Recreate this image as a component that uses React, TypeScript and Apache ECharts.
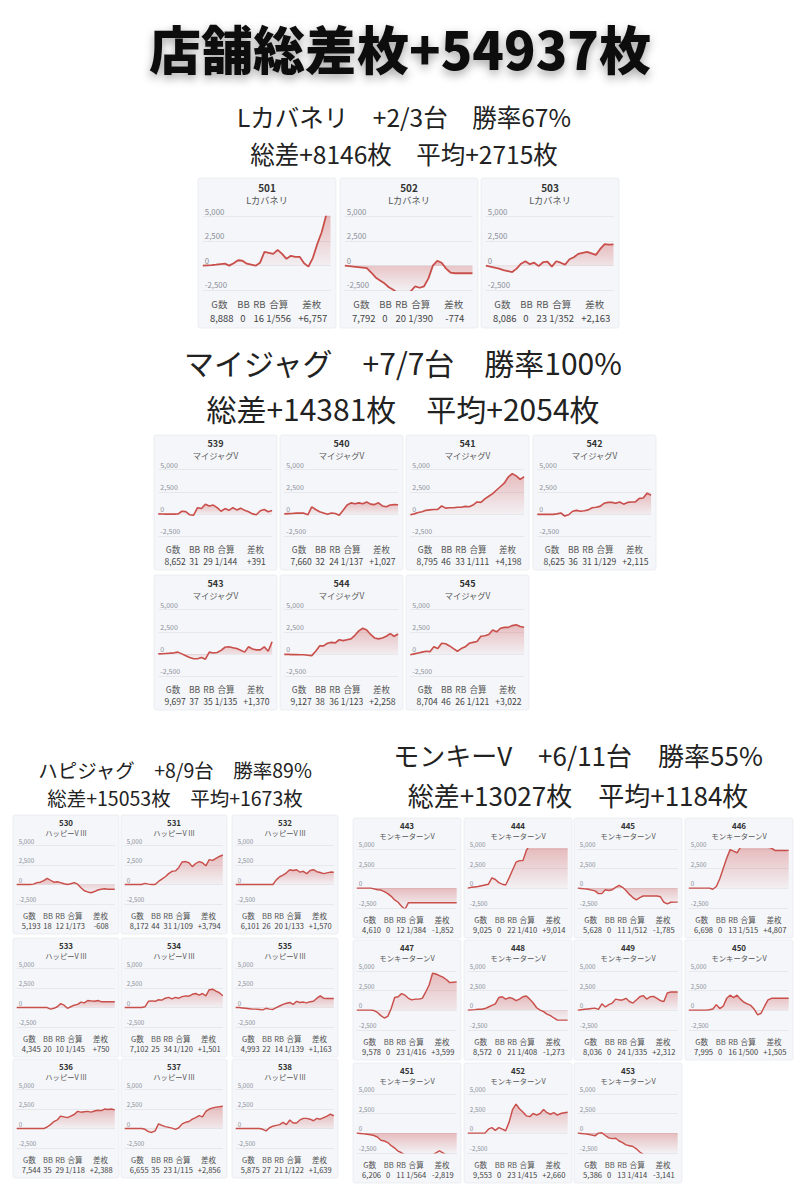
import React, { useEffect, useRef } from "react";
import * as echarts from "echarts";

const FONT = '"Noto Sans CJK JP", "Noto Sans", sans-serif';

// ---------- text ----------
const pageTitle = "店舗総差枚+54937枚";
const headingLine1 = [
  "Lカバネリ　+2/3台　勝率67%",
  "マイジャグ　+7/7台　勝率100%",
  "ハピジャグ　+8/9台　勝率89%",
  "モンキーV　+6/11台　勝率55%",
];
const headingLine2 = [
  "総差+8146枚　平均+2715枚",
  "総差+14381枚　平均+2054枚",
  "総差+15053枚　平均+1673枚",
  "総差+13027枚　平均+1184枚",
];
const modelNames = ["Lカバネリ", "マイジャグV", "ハッピーV III", "モンキーターンV"];
const statHeaders = ["G数", "BB", "RB", "合算", "差枚"];

// ---------- units ----------
const kabaneriUnits = ["501", "502", "503"];
const myJugUnits = ["539", "540", "541", "542", "543", "544", "545"];
const happyUnits = ["530", "531", "532", "533", "534", "535", "536", "537", "538"];
const monkeyUnits = ["443", "444", "445", "446", "447", "448", "449", "450", "451", "452", "453"];

// ---------- stats (same order as units above) ----------
const gameCounts = [
  8888, 7792, 8086,
  8652, 7660, 8795, 8625, 9697, 9127, 8704,
  5193, 8172, 6101, 4345, 7102, 4993, 7544, 6655, 5875,
  4610, 9025, 5628, 6698, 9578, 8572, 8036, 7995, 6206, 9553, 5386,
];
const bigCounts = [
  0, 0, 0,
  31, 32, 46, 36, 37, 38, 46,
  18, 44, 26, 20, 25, 22, 35, 35, 27,
  0, 0, 0, 0, 0, 0, 0, 0, 0, 0, 0,
];
const regCounts = [
  16, 20, 23,
  29, 24, 33, 31, 35, 36, 26,
  12, 31, 20, 10, 34, 14, 29, 23, 21,
  12, 22, 11, 13, 23, 21, 24, 16, 11, 23, 13,
];
const combinedOdds = [
  556, 390, 352,
  144, 137, 111, 129, 135, 123, 121,
  173, 109, 133, 145, 120, 139, 118, 115, 122,
  384, 410, 512, 515, 416, 408, 335, 500, 564, 415, 414,
];
const diffCoins = [
  6757, -774, 2163,
  391, 1027, 4198, 2115, 1370, 2258, 3022,
  -608, 3794, 1570, 750, 1501, 1163, 2388, 2856, 1639,
  -1852, 9014, -1785, 4807, 3599, -1273, 2312, 1505, -2819, 2660, -3141,
];

// ---------- y axis ticks ----------
const yMin = -2500;
const yMax = 5000;
const yStep = 2500;

// ---------- slump curves (差枚 over the day) ----------
const v501 = [0, 30, 60, 100, 150, 200, 0, 250, 550, 500, 200, 100, 0, 300, 1400, 1300, 1200, 1600, 1200, 700, 1000, 900, 900, 250, -100, 800, 2200, 3400, 5100, 6757];
const v502 = [0, -50, -100, -150, -200, -250, -700, -1200, -1500, -1800, -2200, -2450, -2800, -3100, -3000, -2600, -2100, -2250, -2100, -1300, 0, 500, 300, -300, -700, -774, -774, -774, -774, -774];
const v503 = [0, -100, -200, -300, -450, -550, -650, -300, 200, 450, 150, 300, -50, 350, 400, -100, 450, 300, 100, 650, 850, 1200, 1300, 1400, 1250, 1100, 1700, 2200, 2150, 2163];

const v539 = [0, -20, -30, -30, -30, -20, 300, 250, -100, -150, 700, 600, 1100, 900, 1000, 700, 300, 600, 400, 700, 450, 650, 400, 250, 0, -100, 350, 500, 250, 391];
const v540 = [0, 30, 50, 80, 100, 80, -100, 800, 500, 250, 100, -50, 100, 50, -150, 400, 1000, 1250, 1150, 1250, 1150, 1350, 1100, 1050, 1250, 900, 800, 1000, 1050, 1027];
const v541 = [-100, 0, 150, 250, 400, 450, 500, 500, 900, 650, 700, 700, 750, 750, 850, 800, 1000, 1350, 1300, 1700, 2000, 2300, 2700, 3100, 3500, 4200, 4550, 4300, 3900, 4198];
const v542 = [-50, -50, -50, -60, -60, 0, 100, -250, -100, 300, 400, 300, 350, 450, 700, 750, 850, 1200, 1300, 1300, 1200, 1350, 1100, 1300, 1350, 1350, 1750, 1800, 2350, 2115];
const v543 = [0, 20, 50, 80, 120, 200, 0, -200, -400, -550, -550, -400, -600, 200, 100, 150, 400, 750, 800, 700, 600, 400, 200, 800, 550, 450, 450, 800, 300, 1370];
const v544 = [-50, -50, -80, -80, -100, -100, -150, -200, 300, 900, 900, 1200, 1300, 1250, 1600, 1500, 1600, 1700, 2100, 2600, 2900, 2700, 2200, 1800, 1700, 1800, 2000, 2300, 2000, 2258];
const v545 = [-100, 0, 100, 200, 300, 250, 800, 600, 1200, 1150, 900, 600, 300, 600, 800, 1200, 1300, 1400, 2000, 2050, 2200, 2700, 2500, 2900, 3000, 3000, 3200, 3300, 3100, 3022];

const v530 = [0, 0, 0, 0, 0, 50, 250, 300, 500, 800, 550, 300, 350, 250, 100, 0, 100, 250, 50, -400, -800, -950, -1050, -900, -700, -600, -550, -600, -600, -608];
const v531 = [0, 0, 0, 0, 0, 0, 150, 50, 0, 0, 400, 700, 1000, 1400, 1700, 1750, 2200, 2900, 2950, 2800, 2300, 2700, 2950, 2800, 2400, 3200, 3100, 3350, 3600, 3794];
const v532 = [0, 0, 0, 0, 0, 0, 0, 0, 0, 0, 0, 0, 600, 1000, 1200, 1500, 1900, 1800, 1900, 1600, 1700, 1400, 1800, 1900, 1650, 1550, 1400, 1500, 1600, 1570];
const v533 = [0, 0, 0, 0, 0, 0, 0, 0, 0, 0, -200, -100, 100, 500, 300, -100, 100, 300, 400, 700, 600, 900, 850, 800, 900, 750, 750, 750, 750, 750];
const v534 = [0, 0, 0, 0, 0, 0, 100, 800, 850, 800, 1000, 950, 1200, 1300, 1100, 1300, 1200, 1400, 1500, 1450, 1700, 1800, 1600, 1800, 1500, 2300, 2350, 2100, 1900, 1501];
const v535 = [0, 0, -50, -100, -150, -200, -200, -250, -300, -100, -200, -250, 0, 200, 400, 550, 650, 400, 800, 650, 700, 600, 750, 800, 1200, 1500, 1200, 1150, 1150, 1163];
const v536 = [0, 0, 0, 0, 0, 0, 0, 0, 0, 200, 500, 900, 1100, 1600, 1500, 1400, 1600, 1800, 2200, 2100, 2150, 2200, 2100, 2250, 2350, 2300, 2500, 2450, 2500, 2388];
const v537 = [0, 0, 0, 0, 0, 0, -100, -400, -500, -300, 600, 400, 250, 150, 50, -100, 100, 600, 800, 900, 1200, 1400, 1650, 1500, 2200, 2500, 2650, 2750, 2800, 2856];
const v538 = [0, 0, 0, 0, 0, 0, 0, 0, -100, -300, 100, 300, 400, 500, 800, 500, 1100, 700, 700, 1100, 1300, 1300, 1200, 1000, 1300, 1200, 1400, 1600, 1850, 1639];

const v443 = [0, 0, 0, 0, 0, -100, -200, -250, -450, -700, -1050, -1500, -1800, -2300, -2700, -1852, -1852, -1852, -1852, -1852, -1852, -1852, -1852, -1852, -1852, -1852, -1852, -1852, -1852, -1852];
const v444 = [0, 100, 150, 200, 300, 400, 500, 1300, 1100, 700, 500, 400, 1300, 2300, 3300, 3500, 3500, 4800, 5500, 6200, 6800, 7200, 7600, 8000, 8300, 8500, 8700, 8800, 8900, 9014];
const v445 = [0, -50, -100, -150, -250, -350, -700, -700, -200, -300, -200, 100, 350, 100, -300, -800, -1200, -1500, -1200, -1000, -1000, -1000, -1000, -1000, -1100, -1800, -2000, -1800, -1785, -1785];
const v446 = [0, 0, 0, 0, 0, 0, 0, -150, 200, 1200, 2500, 3800, 4900, 4700, 4500, 5200, 5400, 5500, 5500, 5500, 5400, 5300, 5300, 5200, 5100, 4800, 4800, 4800, 4800, 4807];
const v447 = [0, 0, 0, 0, 0, -50, -300, -700, -1000, -800, 200, 1600, 1700, 2100, 1900, 1500, 1300, 1400, 1400, 1500, 2300, 3200, 4700, 4600, 4400, 4200, 3900, 3500, 3550, 3599];
const v448 = [0, 30, 60, 100, 120, 200, 400, 600, 800, 1600, 1700, 1400, 1600, 1500, 1200, 1400, 1700, 1800, 1400, 900, 300, 0, -200, -500, -700, -1000, -1273, -1273, -1273, -1273];
const v449 = [0, 50, 100, 150, 200, 250, 100, 800, 400, 700, 900, 1400, 1300, 1300, 1500, 1100, 900, 1300, 1700, 1850, 1400, 1700, 1750, 1500, 1200, 1100, 2200, 2300, 2300, 2312];
const v450 = [0, 0, 0, 0, 0, 0, 50, 150, 700, 200, 500, 1500, 1900, 1600, 1900, 1400, 1000, 800, 600, 100, -600, -400, 500, 1300, 1500, 1505, 1505, 1505, 1505, 1505];
const v451 = [0, -50, -100, -150, -200, -300, -500, -900, -1000, -1200, -1600, -1900, -2300, -2500, -2800, -2900, -3000, -3100, -3200, -3300, -3200, -3000, -2800, -2500, -2250, -2500, -2800, -2900, -2850, -2819];
const v452 = [0, 0, 0, 0, 0, 0, 500, 700, 350, 700, 500, 300, 1400, 3000, 3700, 3100, 2700, 2200, 2100, 2500, 2300, 2500, 3000, 2600, 2400, 2600, 2300, 2500, 2600, 2660];
const v453 = [0, -50, -100, -150, -250, -350, 0, 50, -300, -600, -700, -650, -1000, -1200, -1500, -1600, -1700, -2000, -2400, -2700, -2900, -3000, -3100, -3200, -3200, -3200, -3150, -3150, -3141, -3141];

const curves = [
  v501, v502, v503,
  v539, v540, v541, v542, v543, v544, v545,
  v530, v531, v532, v533, v534, v535, v536, v537, v538,
  v443, v444, v445, v446, v447, v448, v449, v450, v451, v452, v453,
];

const sectionUnits = [kabaneriUnits, myJugUnits, happyUnits, monkeyUnits];

// ---------- layout (positions only) ----------
const cardLayouts = [
  { cols: [198, 340, 481], rows: [178], w: 138, h: 150 },
  { cols: [154, 280, 406, 533], rows: [435, 575], w: 123, h: 135 },
  { cols: [13, 121, 232], rows: [815, 938, 1059], w: 106, h: 119 },
  { cols: [353, 464, 574, 685], rows: [818, 940, 1063], w: 108, h: 120 },
];
const headingLayouts = [
  { x: 404, y1: 116, y2: 153, size: 24.5 },
  { x: 403, y1: 362, y2: 408, size: 30 },
  { x: 175, y1: 769, y2: 797, size: 19.5 },
  { x: 578, y1: 754, y2: 794, size: 26 },
];
const headerCols = [0.155, 0.33, 0.445, 0.585, 0.825];
const valueCols = [0.172, 0.325, 0.44, 0.585, 0.832];

const LINE = "#c94f4b";

function fmt(n: number) {
  return n.toLocaleString("en-US");
}
function fmtSigned(n: number) {
  return (n > 0 ? "+" : "") + n.toLocaleString("en-US");
}

function text(x: number, y: number, str: string, size: number, opts: any = {}) {
  const align = opts.align || "center";
  return {
    type: "text",
    x,
    y,
    z: 10,
    silent: true,
    style: {
      text: str,
      fontSize: size,
      fontFamily: opts.family || FONT,
      fontWeight: opts.weight || "normal",
      fill: opts.fill || "#333",
      lineHeight: size * 1.15,
      align,
      verticalAlign: "middle",
      textAlign: align,
      textVerticalAlign: "middle",
      ...(opts.extra || {}),
    },
  };
}

function buildOption() {
  const grids: any[] = [];
  const xAxes: any[] = [];
  const yAxes: any[] = [];
  const series: any[] = [];
  const graphics: any[] = [];

  graphics.push(
    text(400, 47, pageTitle, 52, {
      weight: 900,
      fill: "#111",
      extra: {
        textShadowBlur: 10,
        textShadowColor: "rgba(0,0,0,0.35)",
        textShadowOffsetY: 4,
      },
    })
  );

  headingLayouts.forEach((h, i) => {
    graphics.push(text(h.x, h.y1, headingLine1[i], h.size, { fill: "#222" }));
    graphics.push(text(h.x, h.y2, headingLine2[i], h.size, { fill: "#222" }));
  });

  let k = 0;
  sectionUnits.forEach((units, si) => {
    const L = cardLayouts[si];
    const s = L.h / 150;
    units.forEach((id, j) => {
      const ncol = L.cols.length;
      const x = L.cols[j % ncol];
      const y = L.rows[Math.floor(j / ncol)];
      const w = L.w;
      const h = L.h;

      graphics.push({
        type: "rect",
        z: -5,
        silent: true,
        shape: { x, y, width: w, height: h, r: 2 },
        style: { fill: "#f4f6f9", stroke: "#e8ebef", lineWidth: 0.8 },
      });
      graphics.push(text(x + w / 2, y + h * 0.06, id, 10 * s, { weight: "bold", fill: "#333" }));
      graphics.push(text(x + w / 2, y + h * 0.148, modelNames[si], 9.2 * s, { fill: "#555" }));

      const vals = [
        fmt(gameCounts[k]),
        String(bigCounts[k]),
        String(regCounts[k]),
        "1/" + combinedOdds[k],
        fmtSigned(diffCoins[k]),
      ];
      statHeaders.forEach((hd, c) => {
        graphics.push(text(x + w * headerCols[c], y + h * 0.842, hd, 9.5 * s, { fill: "#555" }));
        graphics.push(text(x + w * valueCols[c], y + h * 0.93, vals[c], 9.5 * s, { fill: "#444" }));
      });

      const gl = x + w * 0.035;
      const gw = w * 0.925;
      const gt = y + h * 0.257;
      const gh = h * (0.748 - 0.257);
      grids.push({ left: gl, top: gt, width: gw, height: gh, containLabel: false, show: false });

      const curve = curves[k];
      xAxes.push({
        type: "category",
        gridIndex: k,
        data: curve.map((_, i) => i),
        boundaryGap: false,
        show: false,
      });
      yAxes.push({
        type: "value",
        gridIndex: k,
        min: yMin,
        max: yMax,
        interval: yStep,
        axisLine: { show: false },
        axisTick: { show: false },
        axisLabel: {
          inside: true,
          margin: 2,
          verticalAlign: "bottom",
          padding: [0, 0, 1.5 * s, 0],
          fontSize: 7.8 * s,
          fontFamily: FONT,
          color: "#8c9099",
          formatter: (v: number) => fmt(v),
        },
        splitLine: { lineStyle: { color: "#e2e5e9", width: 0.8 } },
      });

      const clampV = (v: number) => Math.max(yMin, Math.min(yMax, v));
      const pix = (v: number) => gt + ((yMax - clampV(v)) / (yMax - yMin)) * gh;
      const hi = Math.max(0, ...curve);
      const lo = Math.min(0, ...curve);
      const yTop = pix(hi);
      let yBot = pix(lo);
      if (yBot - yTop < 2) yBot = yTop + 2;

      series.push({
        type: "line",
        xAxisIndex: k,
        yAxisIndex: k,
        data: curve,
        symbol: "none",
        showSymbol: false,
        clip: true,
        silent: true,
        z: 3,
        lineStyle: { color: LINE, width: 1.8 * s },
        areaStyle: {
          color: {
            type: "linear",
            x: 0,
            y: yTop,
            x2: 0,
            y2: yBot,
            global: true,
            colorStops: [
              { offset: 0, color: "rgba(205,80,80,0.5)" },
              { offset: 1, color: "rgba(205,80,80,0.05)" },
            ],
          },
        },
      });
      k++;
    });
  });

  return {
    animation: false,
    backgroundColor: "#ffffff",
    grid: grids,
    xAxis: xAxes,
    yAxis: yAxes,
    series,
    graphic: { elements: graphics },
  };
}

export default function App() {
  const ref = useRef<HTMLDivElement>(null);
  useEffect(() => {
    if (!ref.current) return;
    const chart = echarts.init(ref.current, undefined, { renderer: "svg", width: 808, height: 1200 });
    chart.setOption(buildOption() as any);
    return () => chart.dispose();
  }, []);
  return (
    <div
      ref={ref}
      style={{ position: "absolute", left: 0, top: 0, width: 808, height: 1200, background: "#fff" }}
    />
  );
}
